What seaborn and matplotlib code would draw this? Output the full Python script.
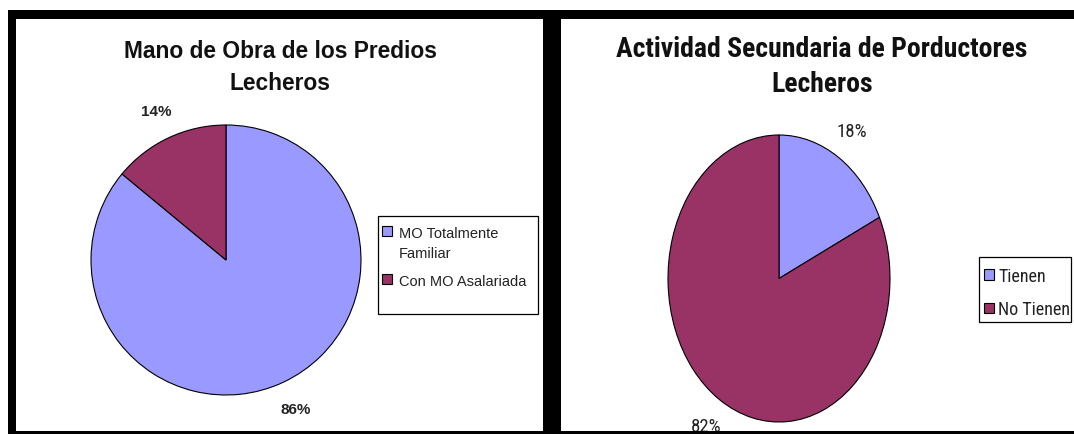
import matplotlib
matplotlib.use("Agg")
import matplotlib.pyplot as plt
import seaborn as sns
from matplotlib import font_manager
from matplotlib.patches import Rectangle

# ---- data ----
left_title = "Mano de Obra de los Predios\nLecheros"
left_labels = ["MO Totalmente\nFamiliar", "Con MO Asalariada"]
left_values = [86, 14]

right_title = "Actividad Secundaria de Porductores\nLecheros"
right_labels = ["Tienen", "No Tienen"]
right_values = [18, 82]

colors = ["#9999FF", "#993366"]

sns.set_style("white")
plt.rcParams["font.family"] = ["Liberation Sans", "DejaVu Sans"]
wide = ["Liberation Sans", "DejaVu Sans"]

# pick a narrow font for the right-hand chart if one exists
ttf = font_manager.fontManager.ttflist
names = {f.name for f in ttf}
narrow_family, narrow_stretch, narrow_scale = "Liberation Sans", "normal", 0.93
for nm in ["Roboto Condensed", "Liberation Sans Narrow", "Open Sans Condensed"]:
    if nm in names:
        narrow_family, narrow_stretch, narrow_scale = nm, "normal", 1.0
        break
else:
    for f in ttf:
        if f.name in ("DejaVu Sans", "Roboto", "Open Sans", "Noto Sans") and f.stretch in (
                "condensed", "semi-condensed", "extra-condensed"):
            narrow_family, narrow_stretch, narrow_scale = f.name, "condensed", 0.95
            break

W, H = 1074, 435
fig = plt.figure(figsize=(W / 100, H / 100), dpi=100)
fig.patch.set_facecolor("white")


def fx(x):
    return x / W


def fy(y):
    return 1 - y / H


def frect(x0, y0, x1, y1, **kw):
    fig.patches.append(Rectangle((fx(x0), fy(y1)), fx(x1) - fx(x0), fy(y0) - fy(y1),
                                 transform=fig.transFigure, **kw))


def nfont(size, weight="normal"):
    return font_manager.FontProperties(family=[narrow_family, "DejaVu Sans"],
                                       stretch=narrow_stretch, weight=weight,
                                       size=size * narrow_scale)


def top_align_handles(leg):
    try:
        for col in leg._legend_handle_box.get_children():
            for row in col.get_children():
                row.align = "top"
    except Exception:
        pass


# black frame
frect(8, 11, 1074, 20, color="black", lw=0)
frect(8, 11, 16, 435, color="black", lw=0)
frect(543, 11, 561, 435, color="black", lw=0)
frect(8, 432, 1074, 435, color="black", lw=0)


def make_pie(cx, cy, hw, hh, values, pctdist):
    ax = fig.add_axes([fx(cx - hw), fy(cy + hh), fx(2 * hw), (2 * hh) / H])
    wedges, _, autotexts = ax.pie(values, colors=colors, startangle=90, counterclock=False,
                                  autopct="%1.0f%%", pctdistance=pctdist,
                                  wedgeprops=dict(edgecolor="black", linewidth=0.8))
    ax.set_aspect("auto")
    ax.set_xlim(-1, 1)
    ax.set_ylim(-1, 1)
    ax.axis("off")
    return wedges, autotexts


# left chart
wl, tl = make_pie(226, 261, 135, 135, left_values, 1.22)
for t in tl:
    t.set(fontsize=11, fontweight="bold", color="#222222", family=wide)
fig.text(fx(280), fy(67), left_title, ha="center", va="center", fontsize=16.4,
         fontweight="bold", family=wide, linespacing=1.5, color="#111111")
frect(378, 217, 538, 315, facecolor="white", edgecolor="black", lw=0.9)
legl = fig.legend(wl, left_labels, loc="upper left", bbox_to_anchor=(fx(382), fy(227)),
                  frameon=False, prop=dict(family=wide, size=10.5),
                  handlelength=0.7, handleheight=0.7,
                  handletextpad=0.45, labelspacing=0.95, borderpad=0, borderaxespad=0)
for t in legl.get_texts():
    t.set_linespacing(1.55)
    t.set_color("#222222")
top_align_handles(legl)

# right chart
wr, tr = make_pie(779, 279.5, 111, 143.5, right_values, 1.22)
for t in tr:
    t.set_fontproperties(nfont(13.5))
    t.set_color("#222222")
fig.text(fx(822), fy(67), right_title, ha="center", va="center",
         fontproperties=nfont(20, "bold"), linespacing=1.4, color="#111111")
frect(979, 258, 1071, 323, facecolor="white", edgecolor="black", lw=0.9)
legr = fig.legend(wr, right_labels, loc="upper left", bbox_to_anchor=(fx(984), fy(268)),
                  frameon=False, prop=nfont(13),
                  handlelength=0.55, handleheight=0.55,
                  handletextpad=0.25, labelspacing=0.85, borderpad=0, borderaxespad=0)
for t in legr.get_texts():
    t.set_color("#222222")

fig.savefig("out.png", dpi=100)
